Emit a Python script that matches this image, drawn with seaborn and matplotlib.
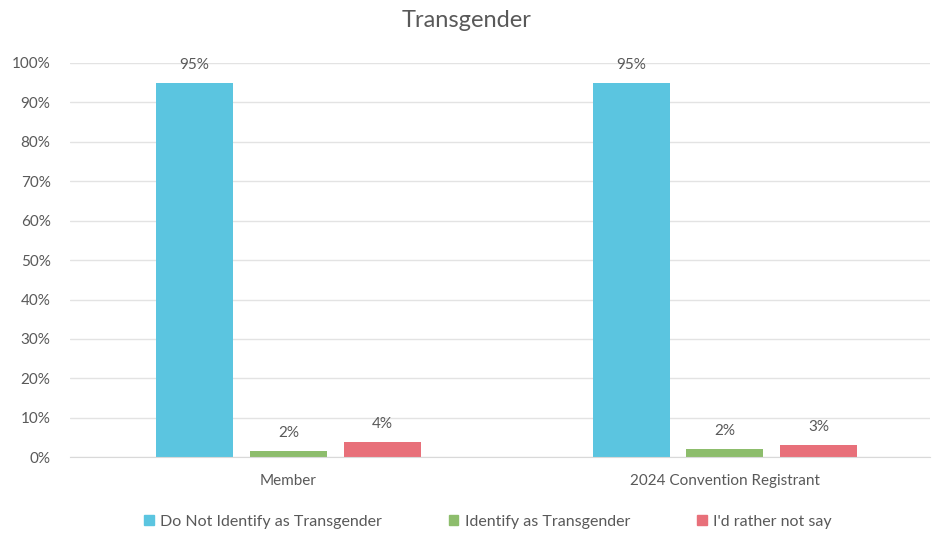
import pandas as pd
import numpy as np
import matplotlib.pyplot as plt
import seaborn as sns

# Data
groups = ["Member", "2024 Convention Registrant"]
responses = ["Do Not Identify as Transgender", "Identify as Transgender", "I'd rather not say"]
values = {
    "Do Not Identify as Transgender": [0.95, 0.95],
    "Identify as Transgender": [0.015, 0.02],
    "I'd rather not say": [0.038, 0.03],
}
labels = {
    "Do Not Identify as Transgender": ["95%", "95%"],
    "Identify as Transgender": ["2%", "2%"],
    "I'd rather not say": ["4%", "3%"],
}
colors = ["#5BC5E0", "#8DBD6C", "#E8707A"]
yticks = [0, 0.1, 0.2, 0.3, 0.4, 0.5, 0.6, 0.7, 0.8, 0.9, 1.0]

rows = []
for r in responses:
    for g, v in zip(groups, values[r]):
        rows.append({"group": g, "response": r, "value": v})
df = pd.DataFrame(rows)

sns.set_style("white")
plt.rcParams["font.family"] = ["Lato", "DejaVu Sans"]
text_color = "#595959"

fig = plt.figure(figsize=(9.33, 5.38), dpi=100)
ax = fig.add_axes([0.075, 0.15, 0.922, 0.733])

sns.barplot(
    data=df, x="group", y="value", hue="response",
    order=groups, hue_order=responses, palette=colors,
    width=0.645, gap=0.18, ax=ax, saturation=1, legend=False,
    linewidth=0,
)

for cont, r in zip(ax.containers, responses):
    ax.bar_label(cont, labels=labels[r], padding=8, fontsize=11, color=text_color)

ax.set_ylim(0, 1.0)
ax.set_xlim(-0.5, 1.47)
ax.set_yticks(yticks)
ax.set_yticklabels([f"{int(round(t * 100))}%" for t in yticks])
ax.yaxis.grid(True, color="#E3E3E3", linewidth=1)
ax.set_axisbelow(True)
for s in ["top", "right", "left"]:
    ax.spines[s].set_visible(False)
ax.spines["bottom"].set_color("#D9D9D9")
ax.tick_params(axis="both", length=0, labelsize=11, colors=text_color)
ax.tick_params(axis="x", pad=12)
ax.tick_params(axis="y", pad=14)
ax.set_xlabel("")
ax.set_ylabel("")

fig.text(0.5, 0.962, "Transgender", ha="center", va="center", fontsize=17, color=text_color)

handles = [plt.Rectangle((0, 0), 1, 1, color=c) for c in colors]
fig.legend(handles, responses, loc="center", bbox_to_anchor=(0.523, 0.03), ncol=3,
           frameon=False, fontsize=11.5, handlelength=0.6, handleheight=0.6,
           columnspacing=4.2, handletextpad=0.4, labelcolor=text_color)

fig.savefig("out.png", dpi=100)
